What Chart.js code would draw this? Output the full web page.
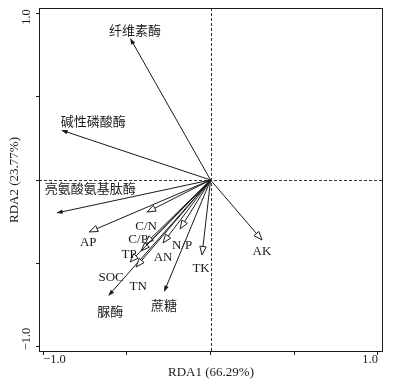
<!DOCTYPE html>
<html><head><meta charset="utf-8">
<script src="https://cdn.jsdelivr.net/npm/chart.js@4/dist/chart.umd.min.js"></script>
<style>html,body{margin:0;padding:0;background:#fff}#wrap{width:395px;height:382px}</style>
</head><body><div id="wrap"><canvas id="c" width="395" height="382"></canvas></div>
<script>
// Response variables (enzymes) – solid arrows
const enzymeNames = ['纤维素酶', '碱性磷酸酶', '亮氨酸氨基肽酶', '脲酶', '蔗糖'];
const enzymeRDA1  = [-0.481, -0.893, -0.922, -0.612, -0.278];
const enzymeRDA2  = [ 0.850,  0.299, -0.198, -0.695, -0.671];
// Explanatory variables (soil properties) – open arrows
const envNames = ['AK', 'TK', 'N/P', 'AN', 'C/N', 'C/P', 'TP', 'SOC', 'TN', 'AP'];
const envRDA1  = [ 0.307, -0.051, -0.182, -0.284, -0.379, -0.391, -0.415, -0.481, -0.445, -0.725];
const envRDA2  = [-0.359, -0.449, -0.293, -0.377, -0.192, -0.383, -0.425, -0.491, -0.521, -0.311];
// Label anchor positions (axis units)
const enzymeLabelX = [-0.451, -0.701, -0.719, -0.600, -0.278];
const enzymeLabelY = [ 0.898,  0.353, -0.048, -0.784, -0.749];
const envLabelX = [ 0.307, -0.057, -0.170, -0.284, -0.385, -0.433, -0.487, -0.594, -0.433, -0.731];
const envLabelY = [-0.431, -0.533, -0.395, -0.467, -0.281, -0.359, -0.449, -0.587, -0.641, -0.377];
// Axes
const axisTicks = [-1, -0.5, 0, 0.5, 1];
const tickText = {'-1': '\u22121.0', '1': '1.0'};
const xTitle = 'RDA1 (66.29%)';
const yTitle = 'RDA2 (23.77%)';

const INK = '#1a1a1a';
const LATIN = '"Liberation Serif", "Times New Roman", serif';
const CJK = '"Noto Sans CJK SC", "Liberation Serif", sans-serif';

function drawArrow(ctx, x0, y0, x1, y1, open) {
  const ang = Math.atan2(y1 - y0, x1 - x0);
  const len = open ? 8.5 : 6.5;
  const hw = open ? 3.2 : 2.2;
  const bx = x1 - len * Math.cos(ang), by = y1 - len * Math.sin(ang);
  const px = -Math.sin(ang) * hw, py = Math.cos(ang) * hw;
  ctx.beginPath();
  ctx.moveTo(x0, y0);
  ctx.lineTo(open ? bx : x1 - 2 * Math.cos(ang), open ? by : y1 - 2 * Math.sin(ang));
  ctx.stroke();
  ctx.beginPath();
  ctx.moveTo(x1, y1);
  ctx.lineTo(bx + px, by + py);
  ctx.lineTo(bx - px, by - py);
  ctx.closePath();
  if (open) { ctx.fillStyle = '#fff'; ctx.fill(); ctx.stroke(); }
  else { ctx.fillStyle = INK; ctx.fill(); }
}

const biplotPlugin = {
  id: 'biplot',
  beforeDatasetsDraw(chart) {
    const {ctx, chartArea: a, scales: {x, y}} = chart;
    const ox = Math.round(x.getPixelForValue(0)) + 0.5;
    const oy = Math.round(y.getPixelForValue(0)) + 0.5;
    ctx.save();
    ctx.strokeStyle = '#333';
    ctx.lineWidth = 1;
    ctx.setLineDash([3, 2]);
    ctx.beginPath();
    ctx.moveTo(a.left, oy); ctx.lineTo(a.right, oy);
    ctx.moveTo(ox, a.top); ctx.lineTo(ox, a.bottom);
    ctx.stroke();
    ctx.setLineDash([]);
    ctx.strokeStyle = INK;
    ctx.strokeRect(Math.round(a.left) + 0.5, Math.round(a.top) + 0.5,
                   Math.round(a.right - a.left) - 1, Math.round(a.bottom - a.top) - 1);
    ctx.restore();
  },
  afterDatasetsDraw(chart) {
    const {ctx, scales: {x, y}} = chart;
    const ox = x.getPixelForValue(0), oy = y.getPixelForValue(0);
    ctx.save();
    ctx.strokeStyle = INK;
    ctx.lineWidth = 1;
    const groups = [
      {ds: 0, open: false, names: enzymeNames, lx: enzymeLabelX, ly: enzymeLabelY},
      {ds: 1, open: true, names: envNames, lx: envLabelX, ly: envLabelY}
    ];
    groups.forEach(g => {
      chart.getDatasetMeta(g.ds).data.forEach(pt => drawArrow(ctx, ox, oy, pt.x, pt.y, g.open));
    });
    ctx.textAlign = 'center';
    ctx.textBaseline = 'middle';
    ctx.fillStyle = INK;
    groups.forEach(g => {
      g.names.forEach((n, j) => {
        ctx.font = /[\u4e00-\u9fff]/.test(n) ? '13px ' + CJK : '13px ' + LATIN;
        ctx.fillText(n, x.getPixelForValue(g.lx[j]), y.getPixelForValue(g.ly[j]));
      });
    });
    // rotated y tick labels
    ctx.font = '12.5px ' + LATIN;
    [[1, 4], [-1, -8]].forEach(([v, shift]) => {
      ctx.save();
      ctx.translate(27, y.getPixelForValue(v) + shift);
      ctx.rotate(-Math.PI / 2);
      ctx.fillText(tickText[String(v)], 0, 0);
      ctx.restore();
    });
    ctx.restore();
  }
};

new Chart(document.getElementById('c'), {
  type: 'scatter',
  data: {
    datasets: [
      {label: 'enzymes', data: enzymeRDA1.map((v, i) => ({x: v, y: enzymeRDA2[i]})), pointRadius: 0, pointHitRadius: 0},
      {label: 'soil', data: envRDA1.map((v, i) => ({x: v, y: envRDA2[i]})), pointRadius: 0, pointHitRadius: 0}
    ]
  },
  options: {
    responsive: false,
    devicePixelRatio: 1,
    animation: false,
    events: [],
    layout: {padding: {top: 8, right: 12, left: 0, bottom: 0}},
    plugins: {legend: {display: false}, tooltip: {enabled: false}},
    scales: {
      x: {
        type: 'linear', min: -1.025, max: 1.03,
        afterBuildTicks: s => { s.ticks = axisTicks.map(v => ({value: v})); },
        afterFit: s => { s.height = 30; },
        border: {display: false},
        grid: {drawOnChartArea: false, drawTicks: true, tickLength: 3, tickColor: INK},
        ticks: {
          autoSkip: false, maxRotation: 0, padding: -3, align: 'inner', color: INK,
          font: {family: LATIN, size: 12.5},
          callback: v => tickText[String(v)] || ''
        },
        title: {display: true, text: xTitle, color: INK, font: {family: LATIN, size: 13}, padding: {top: 0, bottom: 2}}
      },
      y: {
        type: 'linear', min: -1.03, max: 1.03,
        afterBuildTicks: s => { s.ticks = axisTicks.map(v => ({value: v})); },
        afterFit: s => { s.width = 39; },
        border: {display: false},
        grid: {drawOnChartArea: false, drawTicks: true, tickLength: 3, tickColor: INK},
        ticks: {display: false},
        title: {display: true, text: yTitle, color: INK, font: {family: LATIN, size: 13}, padding: {top: 7, bottom: 0}}
      }
    }
  },
  plugins: [biplotPlugin]
});
</script>
</body></html>
